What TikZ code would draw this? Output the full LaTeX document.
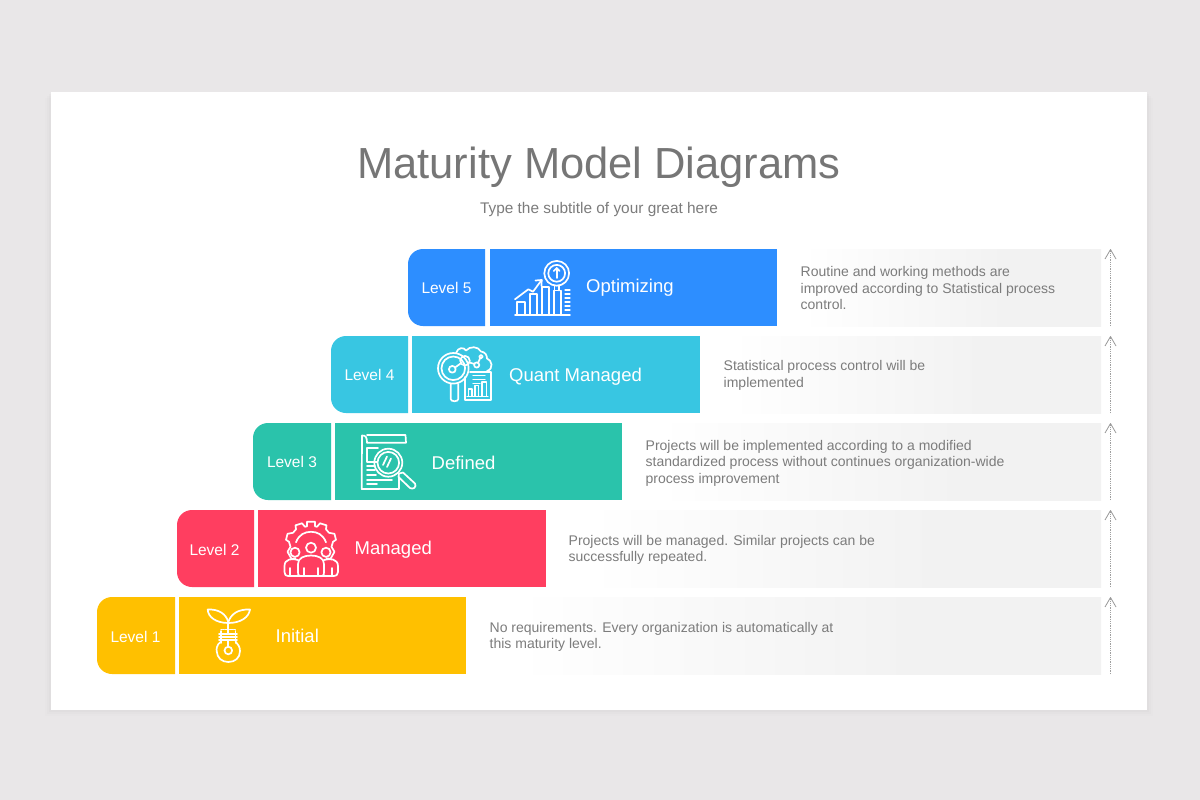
\documentclass[tikz,border=0pt]{standalone}
\usepackage{fontspec}
\setmainfont{Liberation Sans}
\usetikzlibrary{arrows.meta}
\definecolor{pagebg}{HTML}{E9E7E8}
\definecolor{paneg}{HTML}{F2F2F2}
\definecolor{cfive}{HTML}{2D8EFF}
\definecolor{cfour}{HTML}{38C6E2}
\definecolor{cthree}{HTML}{2AC3AB}
\definecolor{ctwo}{HTML}{FF3E60}
\definecolor{cone}{HTML}{FFC000}
\definecolor{titlegray}{HTML}{767676}
\definecolor{bodygray}{HTML}{7C7C7C}
\pgfdeclarehorizontalshading{panelfade}{100bp}{color(0bp)=(white); color(29bp)=(white); color(60bp)=(paneg); color(100bp)=(paneg)}
\tikzset{
  leveltxt/.style={text=white,font=\fontsize{15.5}{18}\selectfont,inner sep=0pt},
  nametxt/.style={text=white,font=\fontsize{18.5}{22}\selectfont,inner sep=0pt,anchor=west},
  bodytxt/.style={text=bodygray,font=\fontsize{14}{16.6}\selectfont,inner sep=0pt,anchor=west,align=left},
  panelbox/.style={shading=panelfade,shading angle=0,inner sep=0pt,anchor=north west,minimum height=77pt},
  mainbox/.style={inner sep=0pt,anchor=north west,minimum height=77pt},
  icon/.style={draw=white,line width=1.7pt,line cap=round,line join=round},
  risearrow/.style={draw=gray!75,line width=.8pt,densely dotted},
  risehead/.style={draw=gray!80,line width=.8pt,line join=round}
}
\newcommand{\levelbox}[4]{% colour, x left, x right, y top
  \fill[#1] (#2+15,#4) -- (#3,#4) -- (#3,#4+77) -- (#2+15,#4+77)
    .. controls (#2+6.7,#4+77) and (#2,#4+70.3) .. (#2,#4+62) -- (#2,#4+15)
    .. controls (#2,#4+6.7) and (#2+6.7,#4) .. (#2+15,#4) -- cycle;
}
\newcommand{\risearrow}[2]{% name, y top
  \coordinate (#1top) at (1110.5,#2+.5);
  \coordinate (#1bot) at (1110.5,#2+77);
  \draw[risearrow] (#1bot) -- (#1top);
  \draw[risehead] (1105,#2+10) -- (#1top) -- (1116,#2+10);
}
\begin{document}
\begin{tikzpicture}[x=1pt,y=-1pt]
\useasboundingbox (0,0) rectangle (1200,800);
\fill[pagebg] (0,0) rectangle (1200,800);
% card with soft shadow
\foreach \s/\o in {6/.008,4/.012,2/.016}
  \fill[black,opacity=\o] (51-\s,92+\s) rectangle (1147+\s,710+\s);
\fill[white] (51,92) rectangle (1147,710);
% title
\node[text=titlegray,font=\fontsize{43.5}{52}\selectfont,inner sep=0pt] (title) at (599,167) {Maturity Model Diagrams};
\node[text=bodygray,font=\fontsize{15.4}{18}\selectfont,inner sep=0pt] (subtitle) at (599,209.5) {Type the subtitle of your great here};
% panels
\node[panelbox,minimum width=324pt] (p5) at (777,249) {};
\node[panelbox,minimum width=401pt] (p4) at (700,336) {};
\node[panelbox,minimum width=479pt] (p3) at (622,423) {};
\node[panelbox,minimum width=555pt] (p2) at (546,510) {};
\node[panelbox,minimum width=635pt] (p1) at (466,597) {};
% level 5
\levelbox{cfive}{408}{485}{249}
\node[mainbox,fill=cfive,minimum width=287pt] (m5) at (490,249) {};
\node[leveltxt] (l5) at (446.5,288) {Level 5};
\node[nametxt] (n5) at (586,287.5) {Optimizing};
\node[bodytxt] (b5) at (800.5,288) {Routine and working methods are\\improved according to Statistical process\\control.};
% level 4
\levelbox{cfour}{331}{408}{336}
\node[mainbox,fill=cfour,minimum width=288pt] (m4) at (412,336) {};
\node[leveltxt] (l4) at (369.5,375) {Level 4};
\node[nametxt] (n4) at (509,376.5) {Quant Managed};
\node[bodytxt] (b4) at (723.5,375.5) {Statistical process control will be\\implemented};
% level 3
\levelbox{cthree}{253}{331}{423}
\node[mainbox,fill=cthree,minimum width=287pt] (m3) at (335,423) {};
\node[leveltxt] (l3) at (292,462) {Level 3};
\node[nametxt] (n3) at (431.5,462.5) {Defined};
\node[bodytxt] (b3) at (645.5,463) {Projects will be implemented according to a modified\\standardized process without continues organization-wide\\process improvement};
% level 2
\levelbox{ctwo}{177}{254}{510}
\node[mainbox,fill=ctwo,minimum width=288pt] (m2) at (258,510) {};
\node[leveltxt] (l2) at (214.5,549.5) {Level 2};
\node[nametxt] (n2) at (354.5,550) {Managed};
\node[bodytxt] (b2) at (568.5,550) {Projects will be managed. Similar projects can be\\successfully repeated.};
% level 1
\levelbox{cone}{97}{175}{597}
\node[mainbox,fill=cone,minimum width=287pt] (m1) at (179,597) {};
\node[leveltxt] (l1) at (135.5,636.5) {Level 1};
\node[nametxt] (n1) at (275.5,636) {Initial};
\node[bodytxt] (b1) at (489.5,637) {No requirements. Every organization is automatically at\\this maturity level.};
% arrows
\risearrow{a5}{249}
\risearrow{a4}{336}
\risearrow{a3}{423}
\risearrow{a2}{510}
\risearrow{a1}{597}
% icon 5: chart with magnifier
\begin{scope}[icon]
  \draw (515,314.7) -- (570,314.7);
  \draw (517,314.7) -- (517,302) -- (525,302) -- (525,314.7);
  \draw (530,314.7) -- (530,294) -- (537,294) -- (537,314.7);
  \draw (542,314.7) -- (542,287) -- (549,287) -- (549,314.7);
  \draw (554,314.7) -- (554,290.5) -- (561,290.5) -- (561,314.7);
  \foreach \t in {290,294,298,302,306,310} \draw[line width=1.2pt] (565,\t) -- (570,\t);
  \draw (515,299.3) -- (528.3,289.3) -- (533,291.7) -- (541.7,280);
  \draw (535.5,280.5) -- (541.7,280) -- (541.5,286);
  \draw (556.7,273.3) circle (12.4);
  \draw (556.7,273.3) circle (8.4);
  \draw (556.7,278) -- (556.7,268.5);
  \draw (553.8,271) -- (556.7,268) -- (559.6,271);
  \draw (554.5,285.5) -- (554.5,290.5);
  \draw (559,285.5) -- (559,290.5);
\end{scope}
% icon 4: magnifier, cloud and report
\begin{scope}[icon]
  \draw (453.3,368.3) circle (15.3);
  \draw (453.3,368.3) circle (11.8);
  \draw (452.3,369.3) circle (3.4);
  \draw (465,360.7) circle (4.8);
  \draw (476.7,365) circle (2.6);
  \draw (481,356.7) circle (1.8);
  \draw (455,367.5) -- (461,363.2);
  \draw (469.5,362.5) -- (474.5,364);
  \draw (478,363) -- (480,358.5);
  \draw (456,353) .. controls (458,347) and (464,347) .. (466,350.5)
       .. controls (470,346) and (478,346) .. (481,351.5)
       .. controls (485,352) and (487,355) .. (487,358.5)
       .. controls (492,360) and (494,369) .. (487,371);
  \draw (450.7,384) -- (450.7,399) .. controls (450.7,402) and (458.3,402) .. (458.3,399) -- (458.3,384);
  \draw (465,377) -- (465,400) -- (490.7,400) -- (490.7,371.7) -- (470,371.7);
  \draw[line width=1.2pt] (473,375.5) -- (485,375.5);
  \draw[line width=1.2pt] (473,379.5) -- (485,379.5);
  \draw[line width=1.2pt] (473,383.5) -- (480,383.5);
  \draw[line width=1.2pt] (468.5,396) -- (468.5,389) -- (472,389) -- (472,396);
  \draw[line width=1.2pt] (475,396) -- (475,385.5) -- (478.5,385.5) -- (478.5,396);
  \draw[line width=1.2pt] (482,396) -- (482,382) -- (486.5,382) -- (486.5,396);
  \draw[line width=1.2pt] (467,396.5) -- (488,396.5);
\end{scope}
% icon 3: document with magnifier
\begin{scope}[icon]
  \draw (367,435) -- (405.5,435) -- (406,442.7) -- (367,442.7);
  \draw (367,442.7) .. controls (367,438) and (366,435) .. (362,435.5) -- (361.7,489) -- (399,489) -- (399,477);
  \draw (367,448) -- (378,448);
  \draw (367,448) -- (367,462) -- (377,462);
  \draw (367,466) -- (375,466);
  \draw (367,470) -- (375,470);
  \draw (367,475) -- (376,475);
  \draw (367,480) -- (392,480);
  \draw (367,484) -- (377,484);
  \draw (388.3,462.7) circle (14);
  \draw (388.3,462.7) circle (10.8);
  \draw (383,465) -- (387,456.5);
  \draw (387,467) -- (391,458.5);
  \draw (399,473.5) -- (403,472.5) -- (415,483.5)
       .. controls (417,487) and (413,490) .. (410,488) -- (398.5,477) -- (399,473.5);
\end{scope}
% icon 2: gear and people
\begin{scope}[icon]
  \begin{scope}[shift={(311,548.3)}]
    \draw (15.5,10) -- (19.5,10.5) -- (23.5,3.5) -- (20.5,-1.5) -- (22,-6.5) -- (25,-8.5)
      -- (23.5,-14.5) -- (18,-15.5) -- (15,-19) -- (15.5,-23) -- (9,-25) -- (6,-21.5) -- (4,-22)
      -- (4,-26.5) -- (-4,-26.5) -- (-4,-22) -- (-6,-21.5) -- (-9,-25) -- (-15.5,-23) -- (-15,-19)
      -- (-18,-15.5) -- (-23.5,-14.5) -- (-25,-8.5) -- (-22,-6.5) -- (-20.5,-1.5) -- (-23.5,3.5)
      -- (-19.5,10.5) -- (-15.5,10);
    \draw (-15,-6) .. controls (-12,-14) and (-6,-16.5) .. (0,-16.5)
      .. controls (6,-16.5) and (12,-14) .. (15,-6);
  \end{scope}
  \draw (311,547.7) circle (5);
  \draw (295,552.3) circle (4.6);
  \draw (326,552.3) circle (4.6);
  \draw (300,576) .. controls (298,576) and (298,574) .. (298,572) -- (298,564)
     .. controls (298,558) and (304,555.5) .. (311,555.5)
     .. controls (318,555.5) and (324,558) .. (324,564) -- (324,572)
     .. controls (324,574) and (324,576) .. (322,576) -- cycle;
  \draw (298,560) .. controls (292,558) and (284.5,559) .. (284.5,566) -- (284.5,572)
     .. controls (284.5,575) and (286,576) .. (288,576) -- (300,576);
  \draw (324,560) .. controls (330,558) and (338,559) .. (338,566) -- (338,572)
     .. controls (338,575) and (336,576) .. (334,576) -- (322,576);
  \draw (290,568) -- (290,575);
  \draw (304,568) -- (304,575);
  \draw (318,568) -- (318,575);
  \draw (332,568) -- (332,575);
\end{scope}
% icon 1: sprout in a light bulb
\begin{scope}[icon]
  \draw (228.3,622) .. controls (226,614) and (219,609) .. (207.7,609.5)
     .. controls (208,617) and (216,623) .. (228.3,623);
  \draw (228.3,622) .. controls (231,614) and (238,609) .. (250,609.5)
     .. controls (249,617) and (241,623) .. (228.3,623);
  \draw (228.3,622) -- (228.3,633.7);
  \draw (228.3,640.3) -- (228.3,646.7);
  \draw (219,633.7) -- (237,633.7);
  \draw (219,637) -- (237,637);
  \draw (219,640.3) -- (237,640.3);
  \draw (221,631) -- (221,643);
  \draw (235.5,631) -- (235.5,643);
  \draw[line width=1.2pt,densely dotted] (221,629.5) -- (236,629.5);
  \draw (221,641.5) .. controls (216,645) and (216.5,650) .. (216.7,651)
     .. controls (217,658) and (222,662) .. (228.3,662)
     .. controls (235,662) and (240,658) .. (240,651)
     .. controls (240,647) and (238,644) .. (235.5,641.5);
  \draw (228.3,650.5) circle (3.8);
\end{scope}
\end{tikzpicture}
\end{document}
